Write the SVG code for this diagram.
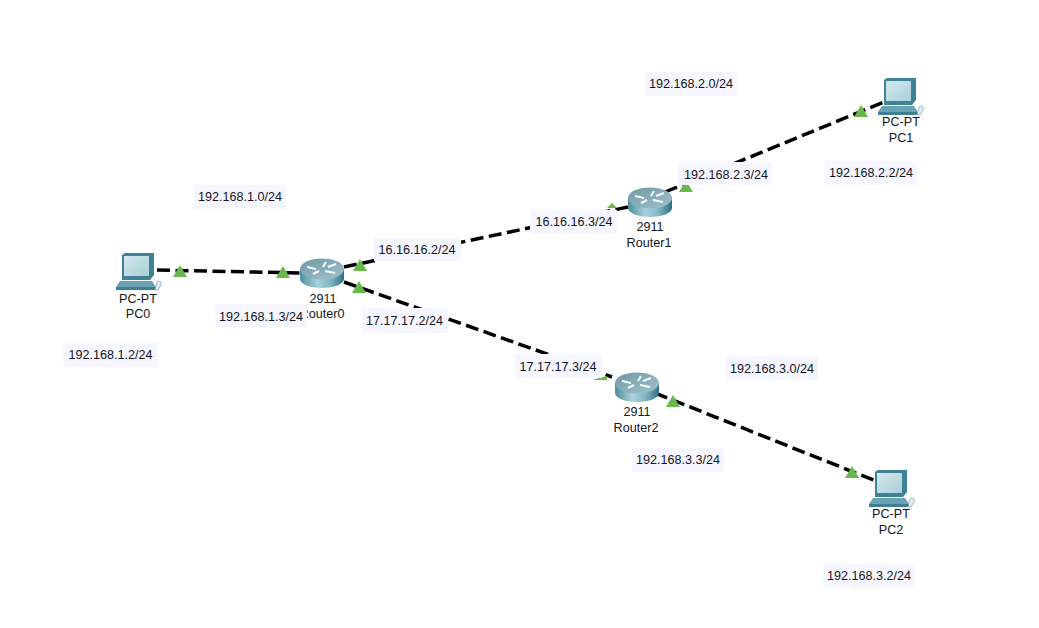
<svg xmlns="http://www.w3.org/2000/svg" width="1039" height="628" viewBox="0 0 1039 628">
<style>
text{font-family:"Liberation Sans",Arial,sans-serif;font-size:12.6px;fill:#141420;text-anchor:middle}
.link{stroke:#000;stroke-width:3.5;stroke-dasharray:13 5.500;fill:none}
.tri{fill:#69b84b}
.lb{fill:#f5f6ff}
</style>
<defs>
<linearGradient id="rt" x1="0" x2="1" y1="0" y2="0"><stop offset="0" stop-color="#4f8c9e"/><stop offset=".4" stop-color="#a9d3db"/><stop offset=".7" stop-color="#7fb5c2"/><stop offset="1" stop-color="#2f6f83"/></linearGradient>
<linearGradient id="rtop" x1="0" x2="1" y1="0" y2="1"><stop offset="0" stop-color="#6d98a6"/><stop offset="1" stop-color="#a3c3cc"/></linearGradient>
<linearGradient id="scr" x1="0" x2="1" y1="0" y2="1"><stop offset="0" stop-color="#d3e8ec"/><stop offset="1" stop-color="#a9cfd8"/></linearGradient>
<g id="router">
<path d="M-22-4V6C-22 11-12 15 0 15S22 11 22 6V-4Z" fill="url(#rt)"/>
<ellipse cx="0" cy="-4" rx="22" ry="10.500" fill="url(#rtop)"/>
<path d="M-15-6l9 2M-9 1l6-3M4-11l-3 5M3-2l10 2M6-6l8-3" stroke="#f4fafb" stroke-width="2" fill="none"/>
</g>
<g id="pc">
<path d="M6 2L9 0H38V22L34 27H6Z" fill="#3f8296"/>
<path d="M8 3H33V23H8Z" fill="url(#scr)"/>
<path d="M4 28H36L40 34H0Z" fill="#6aa3b3"/>
<path d="M0 34H41V37H0Z" fill="#3f7f93"/>
<path d="M41 29c3-2 5 0 4 3l-3 5h-3Z" fill="#e3ecef" stroke="#7aa1ad" stroke-width=".7"/>
</g>
<path id="t" class="tri" d="M-7 6L0-6L7 6Z"/>
</defs>
<rect width="1039" height="628" fill="#fff"/>
<g id="connectors">
<path class="link" d="M157 270L302 273"/>
<path class="link" d="M344 267L628 207"/>
<path class="link" d="M344 282L612 377"/>
<path class="link" d="M665 192L884 102"/>
<path class="link" d="M655 393L876 481"/>
<use href="#t" x="180" y="271"/>
<use href="#t" x="283" y="272"/>
<use href="#t" x="360" y="265"/>
<use href="#t" x="359" y="287"/>
<path class="tri" d="M607 208L612 203L617 208Z"/>
<path class="tri" d="M679 192L684 184H688L693 192Z"/>
<use href="#t" x="861" y="111"/>
<path class="tri" d="M592 380H607V376Z"/>
<use href="#t" x="673" y="401"/>
<use href="#t" x="852" y="472"/>
</g>
<g id="PC0"><use href="#pc" x="116" y="253"/><text x="138" y="303">PC-PT</text><text x="138" y="318">PC0</text></g>
<g id="PC1"><use href="#pc" x="878" y="78"/><text x="901" y="126">PC-PT</text><text x="901" y="142">PC1</text></g>
<g id="PC2"><use href="#pc" x="869" y="470"/><text x="891" y="518">PC-PT</text><text x="891" y="534">PC2</text></g>
<g id="Router0"><use href="#router" x="322" y="273"/><text x="323" y="303">2911</text><text x="322" y="318">Router0</text></g>
<g id="Router1"><use href="#router" x="650" y="202"/><text x="650" y="231">2911</text><text x="649" y="247">Router1</text></g>
<g id="Router2"><use href="#router" x="637" y="387"/><text x="637" y="416">2911</text><text x="636" y="432">Router2</text></g>
<g id="labels">
<rect class="lb" x="194" y="185" width="92" height="24"/><text x="240" y="201">192.168.1.0/24</text>
<rect class="lb" x="63" y="343" width="95" height="24"/><text x="110.500" y="359">192.168.1.2/24</text>
<rect class="lb" x="215" y="304" width="92" height="23"/><text x="261" y="321">192.168.1.3/24</text>
<rect class="lb" x="374" y="238" width="87" height="23"/><text x="417" y="254">16.16.16.2/24</text>
<rect class="lb" x="362" y="308" width="86" height="25"/><text x="404.500" y="325">17.17.17.2/24</text>
<rect class="lb" x="530" y="210" width="87" height="24"/><text x="574" y="226">16.16.16.3/24</text>
<rect class="lb" x="515" y="354" width="87" height="24"/><text x="558" y="371">17.17.17.3/24</text>
<rect class="lb" x="678" y="162" width="94" height="23"/><text x="726" y="179">192.168.2.3/24</text>
<rect class="lb" x="645" y="72" width="92" height="24"/><text x="691" y="88">192.168.2.0/24</text>
<rect class="lb" x="825" y="161" width="92" height="24"/><text x="871" y="177">192.168.2.2/24</text>
<rect class="lb" x="726" y="356" width="92" height="24"/><text x="772" y="373">192.168.3.0/24</text>
<rect class="lb" x="632" y="448" width="92" height="24"/><text x="678" y="464">192.168.3.3/24</text>
<rect class="lb" x="823" y="564" width="92" height="24"/><text x="869" y="580">192.168.3.2/24</text>
</g>
</svg>
